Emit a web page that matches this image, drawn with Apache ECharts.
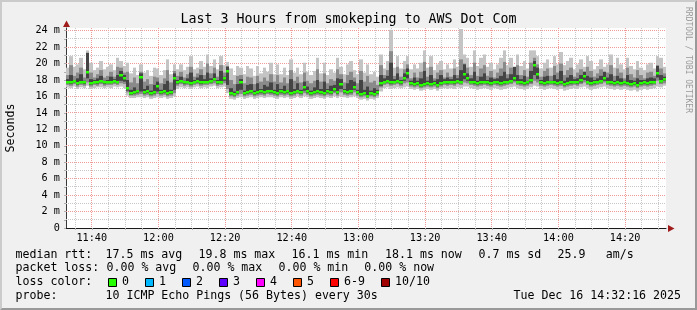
<!DOCTYPE html>
<html><head><meta charset="utf-8">
<script src="https://cdn.jsdelivr.net/npm/echarts@6/dist/echarts.min.js"></script>
<style>html,body{margin:0;padding:0;background:#f0f0f0;}#c{width:697px;height:310px;}</style>
</head><body><div id="c"></div>
<script>
// ---------------- data ----------------
const title = 'Last 3 Hours from smokeping to AWS Dot Com';
const startTime = '11:32:16';
const endTime = '14:32:16';
const stepMinutes = 1;
const xTickLabels = ['11:40','12:00','12:20','12:40','13:00','13:20','13:40','14:00','14:20'];
const yTickValues = [0,2,4,6,8,10,12,14,16,18,20,22,24];
const yTickLabels = ['0','2 m','4 m','6 m','8 m','10 m','12 m','14 m','16 m','18 m','20 m','22 m','24 m'];

// median RTT (ms), one value per minute
const median = [
17.8,17.7,17.9,17.6,17.8,17.7,19.0,17.6,17.8,17.7,
17.9,17.7,17.8,17.8,17.9,17.8,18.6,18.3,17.0,16.4,
16.5,16.6,18.4,16.5,16.6,16.4,16.5,17.3,16.5,16.6,
16.4,16.5,18.3,17.8,17.9,17.7,17.8,17.6,17.8,17.9,
17.7,17.8,17.8,17.9,18.1,17.7,17.8,18.2,19.1,16.4,
16.3,16.5,17.7,16.4,16.5,16.6,16.4,16.5,16.6,16.5,
16.7,16.6,16.5,16.4,16.6,16.5,16.6,16.4,16.5,16.7,
16.5,17.1,16.6,16.4,16.5,16.6,16.5,16.4,16.6,16.5,
16.9,16.5,17.5,16.6,16.5,16.6,17.2,16.5,16.3,16.4,
16.1,16.4,16.3,16.5,17.6,17.8,17.9,17.7,17.8,17.9,
17.7,18.2,18.9,17.6,17.5,17.6,17.4,17.5,17.6,17.5,
17.6,17.4,17.6,17.8,17.7,17.8,17.7,17.9,17.8,18.7,
18.2,17.8,17.7,17.6,17.7,17.8,17.7,17.6,17.8,17.7,
17.6,17.7,17.8,17.9,18.3,17.8,17.7,17.6,17.7,18.0,
19.8,18.7,17.7,17.6,17.7,17.8,17.7,17.6,17.7,17.5,
17.6,17.7,17.8,17.7,18.0,18.5,17.8,17.6,17.7,17.8,
17.9,18.3,17.8,17.7,17.6,17.7,17.6,17.7,17.6,17.5,
17.6,17.4,17.6,17.7,17.6,17.7,17.8,18.9,17.9,18.1];

// outer smoke (lowest / highest ping)
const smokeMin = [
17.1,17.0,17.2,16.9,17.1,17.0,17.3,16.9,17.0,17.1,
17.1,17.0,17.1,17.0,17.2,17.1,17.2,17.0,16.1,15.8,
15.8,15.9,15.9,15.8,15.9,15.7,15.8,15.9,15.8,15.9,
15.7,15.8,16.0,16.9,17.1,17.0,17.1,16.9,17.1,17.2,
17.0,17.1,17.0,17.2,17.3,17.0,17.1,17.2,16.4,15.7,
15.6,15.8,15.9,15.7,15.8,15.9,15.7,15.8,15.9,15.8,
15.9,15.9,15.8,15.7,15.9,15.8,15.9,15.7,15.8,16.0,
15.8,16.0,15.9,15.7,15.8,15.9,15.8,15.7,15.9,15.8,
16.0,15.8,16.0,15.9,15.8,15.9,16.0,15.8,15.6,15.7,
15.5,15.7,15.6,15.8,16.6,17.0,17.1,16.9,17.0,17.1,
17.0,17.1,17.2,16.9,16.8,16.9,16.7,16.8,16.9,16.8,
16.9,16.7,16.9,17.0,16.9,17.0,16.9,17.1,17.0,17.2,
17.2,17.0,16.9,16.8,16.9,17.0,16.9,16.8,17.0,16.9,
16.8,16.9,17.0,17.1,17.2,17.0,16.9,16.8,16.9,17.1,
17.3,17.2,16.9,16.8,16.9,17.0,16.9,16.8,16.9,16.7,
16.8,16.9,17.0,16.9,17.1,17.2,17.0,16.8,16.9,17.0,
17.1,17.2,17.0,16.9,16.8,16.9,16.8,16.9,16.8,16.7,
16.8,16.6,16.8,16.9,16.8,16.9,17.0,17.2,17.1,17.3];
const smokeMax = [
19.5,20.9,19.6,19.9,20.7,19.3,21.6,20.1,19.2,19.5,
20.3,19.3,19.6,19.9,19.2,20.7,20.3,19.7,20.1,18.8,
19.5,18.6,19.9,18.9,19.2,18.5,19.5,19.4,18.6,19.2,
20.5,18.7,19.9,19.3,19.9,19.2,19.6,20.9,19.3,19.5,
20.3,19.6,21.1,19.7,20.5,19.3,20.9,19.8,20.2,19.4,
18.6,19.7,19.5,18.7,19.7,19.4,18.5,19.7,18.8,19.5,
19.0,20.1,18.7,19.9,18.7,19.5,18.6,20.5,18.9,19.5,
18.7,20.1,19.0,18.6,19.1,20.7,18.8,20.1,18.6,19.3,
18.9,20.7,19.6,18.7,19.9,20.3,19.2,18.7,20.5,18.9,
19.9,18.7,19.0,18.4,21.1,19.4,20.3,24.1,19.5,20.9,
19.4,20.3,20.9,19.3,19.9,19.4,20.1,21.6,19.5,20.9,
19.2,19.9,20.3,19.3,19.9,19.4,20.5,19.6,24.2,21.1,
20.7,19.6,21.6,19.7,20.7,21.1,19.6,20.1,19.3,19.9,
20.7,21.6,19.8,20.7,19.5,21.1,19.7,20.3,19.4,21.6,
21.6,20.9,19.4,20.1,20.5,19.5,20.9,19.9,21.4,19.8,
20.3,20.7,19.3,19.9,20.5,19.6,20.9,20.3,19.3,19.7,
20.5,19.6,19.9,21.1,19.5,20.7,19.9,19.3,20.7,19.7,
19.3,20.3,19.5,19.2,19.9,20.1,19.4,20.9,20.7,19.6];

// middle smoke band
const smokeMidLo = [
17.4,17.3,17.5,17.2,17.4,17.3,17.7,17.2,17.4,17.3,
17.5,17.3,17.4,17.4,17.5,17.4,17.6,17.5,16.5,16.1,
16.1,16.2,16.3,16.1,16.2,16.0,16.1,16.3,16.1,16.2,
16.0,16.1,16.4,17.3,17.5,17.3,17.4,17.2,17.4,17.5,
17.3,17.4,17.4,17.5,17.6,17.3,17.4,17.6,16.9,16.0,
15.9,16.1,16.3,16.0,16.1,16.2,16.0,16.1,16.2,16.1,
16.3,16.2,16.1,16.0,16.2,16.1,16.2,16.0,16.1,16.3,
16.1,16.4,16.2,16.0,16.1,16.2,16.1,16.0,16.2,16.1,
16.4,16.1,16.5,16.2,16.1,16.2,16.5,16.1,15.9,16.0,
15.8,16.0,15.9,16.1,17.1,17.4,17.5,17.3,17.4,17.5,
17.3,17.6,17.7,17.2,17.1,17.2,17.0,17.1,17.2,17.1,
17.2,17.0,17.2,17.4,17.3,17.4,17.3,17.5,17.4,17.7,
17.6,17.4,17.3,17.2,17.3,17.4,17.3,17.2,17.4,17.3,
17.2,17.3,17.4,17.5,17.7,17.4,17.3,17.2,17.3,17.5,
17.9,17.7,17.3,17.2,17.3,17.4,17.3,17.2,17.3,17.1,
17.2,17.3,17.4,17.3,17.5,17.7,17.4,17.2,17.3,17.4,
17.5,17.7,17.4,17.3,17.2,17.3,17.2,17.3,17.2,17.1,
17.2,17.0,17.2,17.3,17.2,17.3,17.4,17.9,17.5,17.6];
const smokeMidHi = [
18.6,19.8,18.5,18.9,19.5,18.3,20.4,18.9,18.3,18.7,
19.2,18.3,18.5,19.0,18.4,19.6,19.5,18.9,19.0,17.7,
18.3,17.6,19.0,17.8,18.1,17.5,18.4,18.3,17.6,18.2,
19.2,17.7,19.1,18.5,19.0,18.3,18.7,19.6,18.4,18.8,
19.3,18.6,20.0,18.8,19.5,18.4,19.8,18.9,19.7,18.0,
17.5,18.5,18.6,17.6,18.4,18.3,17.5,18.5,17.8,18.3,
17.9,18.7,17.8,18.6,17.7,18.3,17.6,19.2,17.9,18.4,
17.7,18.9,17.9,17.6,17.9,19.3,17.8,18.8,17.6,18.1,
17.9,19.3,18.7,17.7,18.6,19.0,18.3,17.6,19.1,17.8,
18.5,17.7,17.9,17.4,19.8,18.6,19.2,21.5,18.5,19.6,
18.4,19.3,19.9,18.2,18.9,18.3,19.0,20.2,18.4,19.6,
18.2,18.9,19.2,18.3,18.9,18.4,19.4,18.6,20.5,20.0,
19.5,18.6,20.1,18.5,19.4,19.8,18.5,19.1,18.3,18.9,
19.4,20.2,18.7,19.5,18.8,19.8,18.6,19.2,18.4,20.1,
20.7,19.9,18.4,19.1,19.4,18.5,19.7,18.9,20.0,18.6,
19.2,19.5,18.4,18.9,19.3,19.0,19.6,19.1,18.4,18.8,
19.3,18.9,18.9,19.8,18.5,19.4,18.9,18.2,19.5,18.7,
18.3,19.2,18.6,18.2,18.9,19.0,18.5,19.8,19.4,18.8];

// inner (darkest) smoke band
const smokeInLo = [
17.6,17.5,17.7,17.4,17.6,17.5,18.2,17.4,17.6,17.5,
17.7,17.5,17.6,17.6,17.7,17.6,17.9,17.8,16.7,16.2,
16.3,16.4,16.6,16.3,16.4,16.2,16.3,16.6,16.3,16.4,
16.2,16.3,16.8,17.5,17.7,17.5,17.6,17.4,17.6,17.7,
17.5,17.6,17.6,17.7,17.9,17.5,17.6,17.9,17.4,16.2,
16.1,16.3,16.8,16.2,16.3,16.4,16.2,16.3,16.4,16.3,
16.5,16.4,16.3,16.2,16.4,16.3,16.4,16.2,16.3,16.5,
16.3,16.7,16.4,16.2,16.3,16.4,16.3,16.2,16.4,16.3,
16.6,16.3,16.9,16.4,16.3,16.4,16.8,16.3,16.1,16.2,
15.9,16.2,16.1,16.3,17.3,17.6,17.7,17.5,17.6,17.7,
17.5,17.9,18.2,17.4,17.3,17.4,17.2,17.3,17.4,17.3,
17.4,17.2,17.4,17.6,17.5,17.6,17.5,17.7,17.6,18.1,
17.9,17.6,17.5,17.4,17.5,17.6,17.5,17.4,17.6,17.5,
17.4,17.5,17.6,17.7,17.9,17.6,17.5,17.4,17.5,17.7,
18.6,18.1,17.5,17.4,17.5,17.6,17.5,17.4,17.5,17.3,
17.4,17.5,17.6,17.5,17.7,18.0,17.6,17.4,17.5,17.6,
17.7,17.9,17.6,17.5,17.4,17.5,17.4,17.5,17.4,17.3,
17.4,17.2,17.4,17.5,17.4,17.5,17.6,18.3,17.7,17.9];
const smokeInHi = [
18.1,18.6,18.0,18.2,18.7,17.9,21.3,18.1,18.0,18.2,
18.5,17.9,18.0,18.4,18.1,18.6,19.1,18.6,18.0,16.8,
17.1,16.8,18.8,16.9,17.3,16.7,17.4,17.8,16.8,17.5,
17.9,16.8,18.8,18.0,18.4,17.9,18.2,18.9,18.0,18.3,
18.6,18.1,18.9,18.2,18.8,18.0,19.1,18.4,19.6,17.0,
16.6,17.5,18.1,16.7,17.4,17.5,16.7,17.6,16.9,17.4,
17.2,17.7,16.8,17.5,16.9,17.3,16.8,18.1,16.9,17.6,
16.8,17.8,17.2,16.7,17.1,18.0,16.9,17.8,16.9,17.3,
17.4,18.2,18.1,16.9,17.6,18.0,17.8,16.8,18.0,16.8,
17.2,16.7,17.0,16.8,18.6,18.2,18.5,20.1,18.1,18.8,
18.0,18.8,19.4,17.9,18.3,17.9,18.2,19.1,17.9,18.6,
17.9,18.1,18.6,18.1,18.3,18.1,18.6,18.2,19.2,19.9,
18.8,18.2,19.0,17.9,18.4,18.8,18.0,18.3,18.1,18.2,
18.5,19.0,18.2,18.7,19.6,18.6,18.1,18.5,17.9,19.1,
20.3,19.5,18.0,18.4,18.5,17.9,18.6,18.1,19.1,17.9,
18.3,18.6,18.1,18.2,18.6,19.0,18.5,18.3,18.0,18.2,
18.5,19.0,18.3,18.7,17.9,18.5,18.2,17.9,18.6,18.0,
17.9,18.2,18.0,18.0,18.2,18.3,18.2,19.7,18.6,18.4];

const legendRtt = ['median rtt:','17.5 ms avg','19.8 ms max','16.1 ms min','18.1 ms now','0.7 ms sd','25.9','am/s'];
const legendLoss = ['packet loss:','0.00 % avg','0.00 % max','0.00 % min','0.00 % now'];
const lossTitle = 'loss color:';
const lossLabels = ['0','1','2','3','4','5','6-9','10/10'];
const lossColors = ['#26ff00','#00b8ff','#0059ff','#5e00ff','#ff00ff','#ff5500','#ff0000','#a10000'];
const probeTitle = 'probe:';
const probeText = '10 ICMP Echo Pings (56 Bytes) every 30s';
const stampText = 'Tue Dec 16 14:32:16 2025';
const watermark = 'RRDTOOL / TOBI OETIKER';
const yTitle = 'Seconds';

// ---------------- build ----------------
function toMin(s){ const p = s.split(':').map(Number); return (p[0]-11)*60 + p[1] + (p[2]||0)/60; }
function fmtMin(v){ const h = 11 + Math.floor(v/60), m = Math.round(v - Math.floor(v/60)*60); return h + ':' + (m<10?'0':'') + m; }
const tMin = toMin(startTime), tMax = toMin(endTime);
const xLabelValues = xTickLabels.map(toMin);
const xMinorValues = []; for (let v = 35; v < tMax; v += 5) xMinorValues.push(v);
const yMinorValues = []; for (let v = 1; v <= 24; v += 1) yMinorValues.push(v);

const rows = median.map((m, i) => {
  const t0 = tMin + i*stepMinutes;
  return [t0, t0 + stepMinutes, smokeMin[i], smokeMax[i], smokeMidLo[i], smokeMidHi[i], smokeInLo[i], smokeInHi[i], m];
});

const MONO = '"DejaVu Sans Mono"';
const GRAY = '#c8c8c8', RED = '#f09a9a';

function renderSmoke(params, api){
  const t0 = api.value(0), t1 = api.value(1);
  const layers = [[2,3,'#c4c4c4'],[4,5,'#8a8a8a'],[6,7,'#444444']];
  const children = [];
  for (const [a,b,c] of layers){
    const p0 = api.coord([t0, api.value(b)]);
    const p1 = api.coord([t1, api.value(a)]);
    const x0 = Math.round(p0[0]), x1 = Math.round(p1[0]);
    children.push({type:'rect', shape:{x:x0, y:p0[1], width:x1-x0, height:p1[1]-p0[1]}, style:{fill:c}});
  }
  const q0 = api.coord([t0, api.value(8)]), q1 = api.coord([t1, api.value(8)]);
  const x0 = Math.round(q0[0]), x1 = Math.round(q1[0]);
  children.push({type:'rect', shape:{x:x0, y:Math.round(q0[1]) - 1, width:x1-x0, height:2.5}, style:{fill:'#26ff00'}});
  return {type:'group', children};
}
function renderVGrid(params, api){
  const v = api.value(0);
  const p = api.coord([v, 0]);
  const cs = params.coordSys;
  const x = Math.floor(p[0]) + 0.5;
  const major = xLabelValues.some(t => Math.abs(t - v) < 1e-6);
  return {type:'line', shape:{x1:x, y1:cs.y, x2:x, y2:cs.y + cs.height}, style:{stroke: major ? RED : GRAY, lineWidth:1, lineDash:[1,1]}};
}
function renderHGrid(params, api){
  const v = api.value(0);
  const p = api.coord([tMin, v]);
  const cs = params.coordSys;
  const y = Math.floor(p[1]) + 0.5;
  const major = yTickValues.indexOf(v) >= 0;
  return {type:'line', shape:{x1:cs.x, y1:y, x2:cs.x + cs.width, y2:y}, style:{stroke: major ? RED : GRAY, lineWidth:1, lineDash:[1,1]}};
}

function txt(text, x, y, size, opts){
  opts = opts || {};
  const el = {type:'text', x:x, y:y, silent:true, style:{text:text, font: size + 'px ' + MONO, fill: opts.fill || '#000',
    align: opts.align || 'left', verticalAlign:'middle', textAlign: opts.align || 'left', textVerticalAlign:'middle'}};
  if (opts.rotation !== undefined) el.rotation = opts.rotation;
  return el;
}

const graphics = [];
graphics.push({type:'polygon', silent:true, shape:{points:[[0,310],[2,308],[2,2],[695,2],[697,0],[0,0]]}, style:{fill:'#cbcbcb'}});
graphics.push({type:'polygon', silent:true, shape:{points:[[2,308],[695,308],[695,2],[697,0],[697,310],[0,310]]}, style:{fill:'#999999'}});
graphics.push(txt(title, 348.5, 19.5, 13.3, {align:'center'}));
graphics.push(txt(yTitle, 11, 128, 11.6, {align:'center', rotation: Math.PI/2}));
graphics.push(txt(watermark, 688, 60, 8, {align:'center', rotation: -Math.PI/2, fill:'#9a9a9a'}));
graphics.push({type:'polygon', silent:true, z:10, shape:{points:[[66.5,20.5],[63,27],[70,27]]}, style:{fill:'#a01c1c'}});
graphics.push({type:'polygon', silent:true, z:10, shape:{points:[[674.5,228.5],[668,225],[668,232]]}, style:{fill:'#a01c1c'}});
const rttX = [15.5, 105.5, 198.5, 291.5, 385, 478.5, 557.5, 605.8];
legendRtt.forEach((s,i)=>graphics.push(txt(s, rttX[i], 254.5, 11.6)));
const lossX = [15.5, 106.5, 192.5, 278.5, 364.3];
legendLoss.forEach((s,i)=>graphics.push(txt(s, lossX[i], 268.3, 11.6)));
graphics.push(txt(lossTitle, 15.5, 282.3, 11.6));
const boxX = [108.5, 145.5, 182.5, 219.5, 256.5, 293.5, 330.5, 381.5];
lossLabels.forEach((s,i)=>{
  graphics.push({type:'rect', silent:true, shape:{x:boxX[i], y:278.5, width:8, height:8}, style:{fill:lossColors[i], stroke:'#000', lineWidth:1}});
  graphics.push(txt(s, boxX[i] + 13.5, 282.3, 11.6));
});
graphics.push(txt(probeTitle, 15.5, 296.3, 11.6));
graphics.push(txt(probeText, 105.5, 296.3, 11.6));
graphics.push(txt(stampText, 681, 296.3, 11.6, {align:'right'}));

const chart = echarts.init(document.getElementById('c'), null, {renderer:'canvas'});
chart.setOption({
  animation:false,
  backgroundColor:'#f0f0f0',
  grid:{left:66, top:28, width:600, height:200, show:true, backgroundColor:'#ffffff', borderWidth:0, containLabel:false, outerBoundsMode:'none'},
  xAxis:{type:'value', min:tMin, max:tMax,
    axisLine:{show:true, onZero:false, lineStyle:{color:'#1a1a1a', width:1}},
    axisTick:{show:true, length:2, customValues:xMinorValues, lineStyle:{color:'#b0b0b0'}},
    axisLabel:{customValues:xLabelValues, margin:5, fontFamily:'DejaVu Sans Mono', fontSize:10.2, color:'#000',
      formatter:v=>fmtMin(v)},
    splitLine:{show:false}},
  yAxis:{type:'value', min:0, max:24.32,
    axisLine:{show:true, onZero:false, lineStyle:{color:'#3a3a3a', width:1}},
    axisTick:{show:true, length:2, customValues:[0].concat(yMinorValues), lineStyle:{color:'#b0b0b0'}},
    axisLabel:{customValues:yTickValues, margin:6, fontFamily:'DejaVu Sans Mono', fontSize:10.2, color:'#000',
      formatter:v=>{ const k = yTickValues.indexOf(Math.round(v)); return k>=0 ? yTickLabels[k] : ''; }},
    splitLine:{show:false}},
  series:[
    {type:'custom', renderItem:renderVGrid, data:xMinorValues.map(v=>[v]), encode:{x:0}, z:1, silent:true},
    {type:'custom', renderItem:renderHGrid, data:yMinorValues.map(v=>[v]), encode:{y:0}, z:1, silent:true},
    {type:'custom', renderItem:renderSmoke, data:rows, clip:true,
      encode:{x:[0,1], y:[2,3,4,5,6,7,8]}, z:3}
  ],
  graphic:{elements:graphics}
});
</script></body></html>
